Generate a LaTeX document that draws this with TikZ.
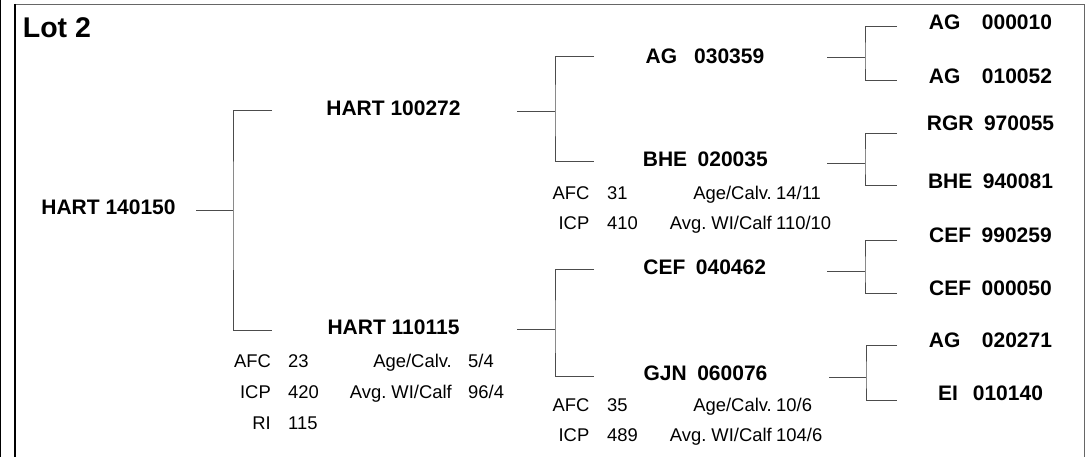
\documentclass[tikz,border=0pt]{standalone}
\usepackage{fontspec}
\setmainfont{Liberation Sans}
\begin{document}
\begin{tikzpicture}[x=1pt,y=-1pt,
  lotlabel/.style={font=\fontsize{28.5}{34}\selectfont\bfseries, inner sep=0pt, anchor=base west},
  animal/.style={font=\fontsize{21}{25}\selectfont\bfseries, inner sep=0pt, anchor=base},
  statkey/.style={font=\fontsize{18.4}{21}\selectfont, inner sep=0pt, anchor=base east},
  statval/.style={font=\fontsize{18.4}{21}\selectfont, inner sep=0pt, anchor=base west},
  link/.style={draw=black!70, line width=1pt},
  frame/.style={draw=black!60, line width=1.2pt}]
\useasboundingbox (0,0) rectangle (1088,457);

% page frame
\draw[black, line width=1.2pt] (0.8,0) -- (0.8,457);
\draw[frame] (14.5,4.5) -- (1084.5,4.5) -- (1084.5,457);
\draw[black, line width=2pt] (14.5,3.9) -- (14.5,457);

\node[lotlabel] (lot) at (22.7,37.7) {Lot 2};

% animals
\node[animal] (root) at (108.5,214.3) {HART 140150};
\node[animal] (h1) at (393.5,116) {HART 100272};
\node[animal] (h2) at (393.5,334.5) {HART 110115};
\node[animal] (ag1) at (705,63.3) {AG\hspace{17pt}030359};
\node[animal] (bhe1) at (705.3,166.7) {BHE\hspace{10.5pt}020035};
\node[animal] (cef1) at (704.7,274.3) {CEF\hspace{10.5pt}040462};
\node[animal] (gjn) at (705.5,380.7) {GJN\hspace{10.5pt}060076};
\node[animal] (ag2) at (990.5,30) {AG\hspace{21.5pt}000010};
\node[animal] (ag3) at (990.5,83.3) {AG\hspace{21.5pt}010052};
\node[animal] (rgr) at (990.5,130.7) {RGR\hspace{10.5pt}970055};
\node[animal] (bhe2) at (990.5,188.3) {BHE\hspace{10.5pt}940081};
\node[animal] (cef2) at (990.5,242.7) {CEF\hspace{10.5pt}990259};
\node[animal] (cef3) at (990.5,296) {CEF\hspace{10.5pt}000050};
\node[animal] (ag4) at (990.5,347.7) {AG\hspace{21.5pt}020271};
\node[animal] (ei) at (990.5,400) {EI\hspace{15pt}010140};

% figures under HART 110115
\node[statkey] (h2-afc) at (271,367.3) {AFC};
\node[statval] (h2-afc-v) at (288,367.3) {23};
\node[statkey] (h2-age) at (452,367.3) {Age/Calv.};
\node[statval] (h2-age-v) at (468,367.3) {5/4};
\node[statkey] (h2-icp) at (271,398.3) {ICP};
\node[statval] (h2-icp-v) at (288,398.3) {420};
\node[statkey] (h2-wi) at (452,398.3) {Avg.\ WI/Calf};
\node[statval] (h2-wi-v) at (468,398.3) {96/4};
\node[statkey] (h2-ri) at (271,429) {RI};
\node[statval] (h2-ri-v) at (288,429) {115};

% figures under BHE 020035
\node[statkey] (bhe1-afc) at (589.5,199.3) {AFC};
\node[statval] (bhe1-afc-v) at (607,199.3) {31};
\node[statkey] (bhe1-age) at (772,199.3) {Age/Calv.};
\node[statval] (bhe1-age-v) at (776,199.3) {14/11};
\node[statkey] (bhe1-icp) at (589.5,229.3) {ICP};
\node[statval] (bhe1-icp-v) at (607,229.3) {410};
\node[statkey] (bhe1-wi) at (772,229.3) {Avg.\ WI/Calf};
\node[statval] (bhe1-wi-v) at (776,229.3) {110/10};

% figures under GJN 060076
\node[statkey] (gjn-afc) at (589.5,411.7) {AFC};
\node[statval] (gjn-afc-v) at (607,411.7) {35};
\node[statkey] (gjn-age) at (772,411.7) {Age/Calv.};
\node[statval] (gjn-age-v) at (776,411.7) {10/6};
\node[statkey] (gjn-icp) at (589.5,441.7) {ICP};
\node[statval] (gjn-icp-v) at (607,441.7) {489};
\node[statkey] (gjn-wi) at (772,441.7) {Avg.\ WI/Calf};
\node[statval] (gjn-wi-v) at (776,441.7) {104/6};

% line ends and junctions
\coordinate (root-r) at (196,211);  \coordinate (j1) at (233,211);
\coordinate (h1-l) at (272,111);    \coordinate (h2-l) at (272,331);
\coordinate (h1-r) at (517,112);    \coordinate (j2) at (555,112);
\coordinate (ag1-l) at (594,57);    \coordinate (bhe1-l) at (594,162);
\coordinate (h2-r) at (517,330);    \coordinate (j3) at (555,330);
\coordinate (cef1-l) at (594,270);  \coordinate (gjn-l) at (594,376);
\coordinate (ag1-r) at (827,58);    \coordinate (j4) at (865,58);
\coordinate (ag2-l) at (897,27);    \coordinate (ag3-l) at (897,81);
\coordinate (bhe1-r) at (827,164);  \coordinate (j5) at (865,164);
\coordinate (rgr-l) at (897,134);   \coordinate (bhe2-l) at (897,186);
\coordinate (cef1-r) at (827,272);  \coordinate (j6) at (865,272);
\coordinate (cef2-l) at (897,241);  \coordinate (cef3-l) at (897,294);
\coordinate (gjn-r) at (829,377);   \coordinate (j7) at (866,377);
\coordinate (ag4-l) at (897,346);   \coordinate (ei-l) at (897,400);

% brackets
\draw[link] (root-r) -- (j1);
\draw[link] (h1-l) -| (j1) |- (h2-l);
\draw[link] (h1-r) -- (j2);
\draw[link] (ag1-l) -| (j2) |- (bhe1-l);
\draw[link] (h2-r) -- (j3);
\draw[link] (cef1-l) -| (j3) |- (gjn-l);
\draw[link] (ag1-r) -- (j4);
\draw[link] (ag2-l) -| (j4) |- (ag3-l);
\draw[link] (bhe1-r) -- (j5);
\draw[link] (rgr-l) -| (j5) |- (bhe2-l);
\draw[link] (cef1-r) -- (j6);
\draw[link] (cef2-l) -| (j6) |- (cef3-l);
\draw[link] (gjn-r) -- (j7);
\draw[link] (ag4-l) -| (j7) |- (ei-l);
\end{tikzpicture}
\end{document}
